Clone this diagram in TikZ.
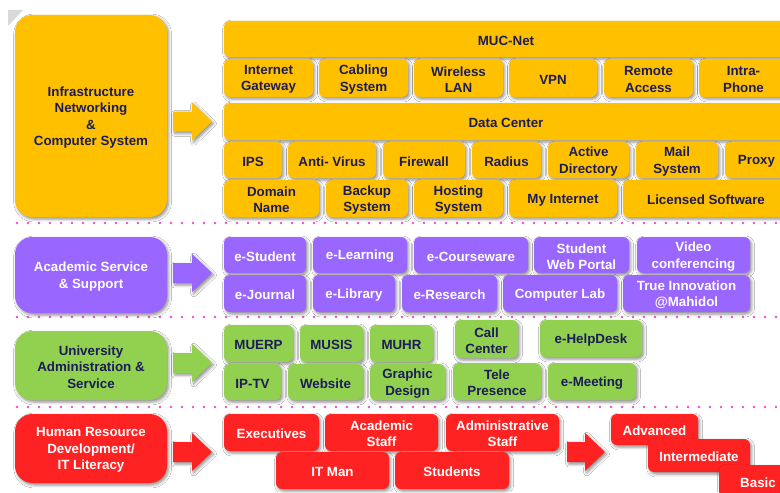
\documentclass[tikz,border=0pt]{standalone}
\usepackage{fontspec}
\setmainfont{Liberation Sans}
\usetikzlibrary{shadows.blur}
\definecolor{yel}{HTML}{FFC000}
\definecolor{pur}{HTML}{9966FF}
\definecolor{grn}{HTML}{92D050}
\definecolor{redc}{HTML}{FF2222}
\definecolor{navy}{RGB}{28,28,88}
\definecolor{dotc}{HTML}{F04CD0}
\tikzset{
  shad/.style={blur shadow={shadow xshift=1.2pt, shadow yshift=-1.5pt, shadow blur radius=2.2pt, shadow opacity=45}},
  base/.style={rounded corners=4.5pt, inner sep=0pt, shad},
  txt/.style={inner sep=0pt, align=center, font=\fontsize{10pt}{12.2pt}\selectfont\bfseries},
  ybox/.style={base, fill=yel},
  pbox/.style={base, fill=pur},
  gbox/.style={base, fill=grn},
  rbox/.style={base, fill=redc},
  ytxt/.style={txt, text=navy},
  ptxt/.style={txt, text=white},
  gtxt/.style={txt, text=navy},
  rtxt/.style={txt, text=white},
  bigbox/.style={rounded corners=13pt},
  sepline/.style={dotc, line width=2.1pt, line cap=round, dash pattern=on 0pt off 8.25pt},
}
% name, x1, y1, x2, y2, colour letter (y/p/g/r), extra style, text
\newcommand\bx[8]{%
  \node[#6box, #7, minimum width={(#4-#2)*0.75pt}, minimum height={(#5-#3)*0.75pt}] (#1) at ({(#2+#4)/2},{(#3+#5)/2}) {};
  \node[#6txt] (#1-t) at ([yshift=-1.1pt]#1.center) {#8};}
\newcommand\barrow[4]{% color, x0, yc, length
  \fill[#1, shad] (#2,#3-10) -- (#2+#4-20,#3-10) -- (#2+#4-20,#3-19) -- (#2+#4,#3) -- (#2+#4-20,#3+19) -- (#2+#4-20,#3+10) -- (#2,#3+10) -- cycle;}
\begin{document}
\begin{tikzpicture}[x=0.75pt,y=-0.75pt]
\fill[white] (0,0) rectangle (780,492);
\clip (0,0) rectangle (780,492);
% grey corner
\fill[gray!30] (8,10) -- (23,10) -- (8,26) -- cycle;
% separators
\coordinate (s1a) at (17,223); \coordinate (s1b) at (782,223);
\coordinate (s2a) at (17,317); \coordinate (s2b) at (782,317);
\coordinate (s3a) at (17,407); \coordinate (s3b) at (782,407);
\draw[sepline] (s1a) -- (s1b);
\draw[sepline] (s2a) -- (s2b);
\draw[sepline] (s3a) -- (s3b);

% ===== Infrastructure =====
\bx{infra}{15}{15}{167}{217}{y}{bigbox}{Infrastructure\\Networking\\\&\\Computer System}
\barrow{yel}{173}{121.5}{39}
\bx{mucnet}{224}{21}{788}{57}{y}{}{MUC-Net}
\bx{igw}{224}{59}{313}{97}{y}{}{Internet\\Gateway}
\bx{cab}{319}{59}{408}{97}{y}{}{Cabling\\System}
\bx{wlan}{414}{59}{503}{97}{y}{}{Wireless\\LAN}
\bx{vpn}{509}{59}{597}{97}{y}{}{VPN}
\bx{remote}{604}{59}{693}{97}{y}{}{Remote\\Access}
\bx{intra}{699}{59}{788}{97}{y}{}{Intra-\\Phone}
\bx{dc}{224}{103}{788}{140}{y}{}{Data Center}
\bx{ips}{224}{142}{282}{178}{y}{}{IPS}
\bx{av}{288}{142}{376}{178}{y}{}{Anti- Virus}
\bx{fw}{383}{142}{465}{178}{y}{}{Firewall}
\bx{rad}{472}{142}{541}{178}{y}{}{Radius}
\bx{ad}{548}{142}{629}{178}{y}{}{Active\\Directory}
\bx{mail}{636}{142}{718}{178}{y}{}{Mail\\System}
\bx{proxy}{725}{142}{788}{178}{y}{}{Proxy}
\bx{dns}{224}{180}{319}{217}{y}{}{Domain\\Name}
\bx{backup}{326}{180}{408}{217}{y}{}{Backup\\System}
\bx{host}{414}{180}{503}{217}{y}{}{Hosting\\System}
\bx{myint}{509}{180}{617}{217}{y}{}{My Internet}
\bx{lic}{623}{180}{789}{217}{y}{}{Licensed Software}

% ===== Academic =====
\bx{acad}{15}{237}{167}{313}{p}{bigbox}{Academic Service\\\& Support}
\barrow{pur}{173}{273}{39}
\bx{estu}{224}{237}{306}{273}{p}{}{e-Student}
\bx{elearn}{313}{237}{407}{273}{p}{}{e-Learning}
\bx{ecw}{414}{237}{528}{273}{p}{}{e-Courseware}
\bx{swp}{534}{237}{629}{273}{p}{}{Student\\Web Portal}
\bx{video}{637}{237}{750}{273}{p}{}{Video\\conferencing}
\bx{ejour}{224}{275}{306}{312}{p}{}{e-Journal}
\bx{elib}{313}{275}{395}{312}{p}{}{e-Library}
\bx{eres}{402}{275}{497}{312}{p}{}{e-Research}
\bx{clab}{503}{275}{617}{312}{p}{}{Computer Lab}
\bx{true}{623}{275}{750}{312}{p}{}{True Innovation\\@Mahidol}

% ===== Administration =====
\bx{admin}{15}{331}{167}{400}{g}{bigbox}{University\\Administration \&\\Service}
\barrow{grn}{173}{363}{39}
\bx{muerp}{224}{325}{293}{362}{g}{}{MUERP}
\bx{musis}{300}{325}{363}{362}{g}{}{MUSIS}
\bx{muhr}{370}{325}{433}{362}{g}{}{MUHR}
\bx{call}{455}{320}{518}{358}{g}{}{Call\\Center}
\bx{help}{540}{320}{642}{357}{g}{}{e-HelpDesk}
\bx{iptv}{224}{364}{281}{400}{g}{}{IP-TV}
\bx{web}{288}{364}{363}{400}{g}{}{Website}
\bx{graph}{370}{364}{445}{400}{g}{}{Graphic\\Design}
\bx{tele}{453}{363}{541}{400}{g}{}{Tele\\Presence}
\bx{emeet}{548}{363}{636}{400}{g}{}{e-Meeting}

% ===== Human Resource =====
\bx{hr}{15}{414}{167}{483}{r}{bigbox}{Human Resource\\Development/\\IT Literacy}
\barrow{redc}{173}{452}{39}
\bx{exec}{224}{414}{319}{451}{r}{}{Executives}
\bx{astaff}{325}{414}{438}{451}{r}{}{Academic\\Staff}
\bx{adstaff}{446}{414}{559}{451}{r}{}{Administrative\\Staff}
\bx{itman}{276}{452}{389}{489}{r}{}{IT Man}
\bx{stud}{395}{452}{509}{489}{r}{}{Students}
\barrow{redc}{567}{452}{38}
\bx{adv}{611}{414}{698}{445}{r}{}{Advanced}
\bx{inter}{648}{439}{750}{472}{r}{}{Intermediate}
\bx{basic}{719}{465}{797}{497}{r}{}{Basic}
\end{tikzpicture}
\end{document}
